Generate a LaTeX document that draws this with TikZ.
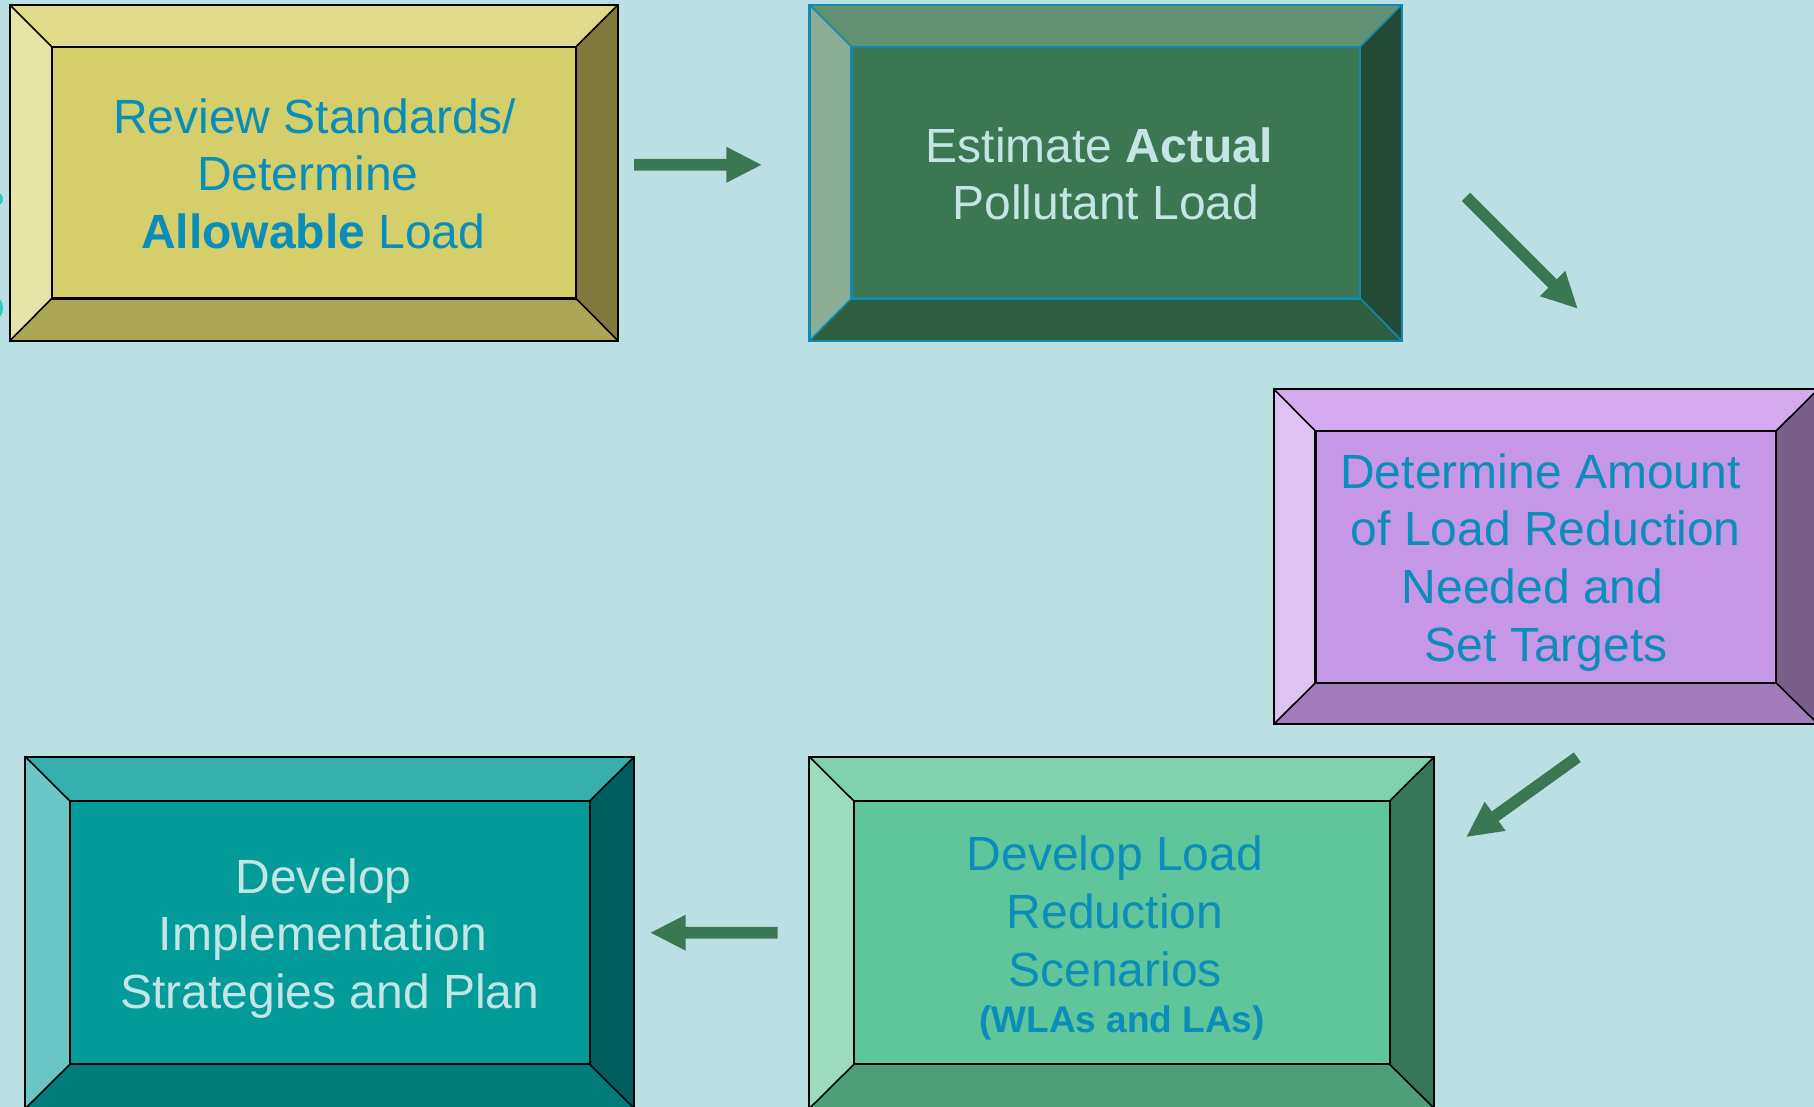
\documentclass[tikz,border=0pt]{standalone}
\usepackage{fontspec}
\setmainfont{Liberation Sans}
\usetikzlibrary{calc,fit}

% page and text colours
\definecolor{bg}{HTML}{BAE0E3}
\definecolor{tblue}{HTML}{0B8DBA}
\definecolor{tlight}{HTML}{C3E5E5}
\definecolor{arrowcol}{HTML}{3A7853}
\definecolor{fragcol}{HTML}{2EC6C6}

% bevel colours, one set per box
\definecolor{bAtop}{HTML}{DFDB8B}\definecolor{bAleft}{HTML}{E6E3A6}
\definecolor{bAface}{HTML}{D4CF6B}\definecolor{bAright}{HTML}{807A3F}
\definecolor{bAbot}{HTML}{ABA556}\definecolor{bAline}{HTML}{000000}

\definecolor{bBtop}{HTML}{629173}\definecolor{bBleft}{HTML}{8AAE95}
\definecolor{bBface}{HTML}{3B7753}\definecolor{bBright}{HTML}{234A34}
\definecolor{bBbot}{HTML}{2E5E41}\definecolor{bBline}{HTML}{118AB2}

\definecolor{bCtop}{HTML}{D4ABEF}\definecolor{bCleft}{HTML}{DEC2F3}
\definecolor{bCface}{HTML}{C696E7}\definecolor{bCright}{HTML}{7A5E8B}
\definecolor{bCbot}{HTML}{A07CBB}\definecolor{bCline}{HTML}{000000}

\definecolor{bDtop}{HTML}{36AFAF}\definecolor{bDleft}{HTML}{6CC5C5}
\definecolor{bDface}{HTML}{039A9A}\definecolor{bDright}{HTML}{025F5F}
\definecolor{bDbot}{HTML}{027B7B}\definecolor{bDline}{HTML}{000000}

\definecolor{bEtop}{HTML}{7FD0AC}\definecolor{bEleft}{HTML}{9DDBBF}
\definecolor{bEface}{HTML}{5FC59A}\definecolor{bEright}{HTML}{36775A}
\definecolor{bEbot}{HTML}{4E9E7A}\definecolor{bEline}{HTML}{000000}

\tikzset{
  linetext/.style={font=\fontsize{48}{57.5}\selectfont, inner sep=0pt, anchor=base},
  smalltext/.style={font=\fontsize{37}{44}\selectfont\bfseries, inner sep=0pt, anchor=base},
  onblue/.style={text=tblue},
  onlight/.style={text=tlight},
  edge/.style={line width=2.2pt, line join=miter},
}

% bevelled box: name, outer x1 y1 x2 y2, inner x1 y1 x2 y2
\newcommand\bevelbox[9]{%
  \coordinate (#1-o1) at (#2,#3);
  \coordinate (#1-o2) at (#4,#3);
  \coordinate (#1-o3) at (#4,#5);
  \coordinate (#1-o4) at (#2,#5);
  \coordinate (#1-i1) at (#6,#7);
  \coordinate (#1-i2) at (#8,#7);
  \coordinate (#1-i3) at (#8,#9);
  \coordinate (#1-i4) at (#6,#9);
  \fill[#1top]   (#1-o1) -- (#1-o2) -- (#1-i2) -- (#1-i1) -- cycle;
  \fill[#1right] (#1-o2) -- (#1-o3) -- (#1-i3) -- (#1-i2) -- cycle;
  \fill[#1bot]   (#1-o3) -- (#1-o4) -- (#1-i4) -- (#1-i3) -- cycle;
  \fill[#1left]  (#1-o4) -- (#1-o1) -- (#1-i1) -- (#1-i4) -- cycle;
  \node[inner sep=0pt, fit=(#1-i1)(#1-i3), fill=#1face] (#1) {};
  \draw[edge, draw=#1line] (#1-o1) rectangle (#1-o3);
  \draw[edge, draw=#1line] (#1-i1) rectangle (#1-i3);
  \draw[edge, draw=#1line, line width=1.6pt]
    (#1-o1) -- (#1-i1) (#1-o2) -- (#1-i2) (#1-o3) -- (#1-i3) (#1-o4) -- (#1-i4);
}

% solid block arrow from tail coordinate #1 to tip coordinate #2
\newcommand\blockarrow[2]{%
  \coordinate (#1-h) at ($(#2)!35pt!(#1)$);
  \fill[arrowcol]
    ($(#1)!5.9pt!90:(#2)$) -- ($(#1-h)!5.9pt!90:(#2)$) -- ($(#1-h)!18pt!90:(#2)$)
    -- (#2)
    -- ($(#1-h)!18pt!-90:(#2)$) -- ($(#1-h)!5.9pt!-90:(#2)$) -- ($(#1)!5.9pt!-90:(#2)$)
    -- cycle;
}

\begin{document}
\begin{tikzpicture}[x=1pt, y=-1pt]
  \useasboundingbox (0,0) rectangle (1814,1107);
  \clip (0,0) rectangle (1814,1107);
  \fill[bg] (0,0) rectangle (1814,1107);

  % glyph edges at the left border
  \fill[fragcol] (-3,199) ellipse [x radius=6, y radius=6.5];
  \fill[fragcol] (-4,308) ellipse [x radius=7, y radius=10.5];

  % the five steps
  \bevelbox{bA}{9.8}{4.7}{618}{340.7}{51.8}{46.7}{576}{298.5}
  \bevelbox{bB}{809.5}{4.7}{1401.8}{340.7}{851.4}{46.7}{1360.3}{298.5}
  \bevelbox{bC}{1274}{389.3}{1818}{724}{1315.5}{431}{1776}{682.7}
  \bevelbox{bD}{25.3}{756.7}{634.3}{1108.5}{69.9}{801}{589.7}{1064.3}
  \bevelbox{bE}{809.3}{756.7}{1434.3}{1108.5}{853.9}{801}{1389.6}{1064.3}

  % step texts
  \node[linetext, onblue] (tA1) at (314.7,133.3) {Review Standards/};
  \node[linetext, onblue] (tA2) at (307.8,190.7) {Determine};
  \node[linetext, onblue] (tA3) at (313.3,248.3) {\textbf{Allowable} Load};

  \node[linetext, onlight] (tB1) at (1099.1,162.3) {Estimate \textbf{Actual}};
  \node[linetext, onlight] (tB2) at (1105.9,220) {Pollutant Load};

  \node[linetext, onblue] (tC1) at (1540.4,488.3) {Determine Amount};
  \node[linetext, onblue] (tC2) at (1545.7,545.7) {of Load Reduction};
  \node[linetext, onblue] (tC3) at (1532.6,603.3) {Needed and};
  \node[linetext, onblue] (tC4) at (1546.2,661) {Set Targets};

  \node[linetext, onlight] (tD1) at (323.5,893.3) {Develop};
  \node[linetext, onlight] (tD2) at (323,950.7) {Implementation};
  \node[linetext, onlight] (tD3) at (329.8,1008.3) {Strategies and Plan};

  \node[linetext, onblue] (tE1) at (1115,870) {Develop Load};
  \node[linetext, onblue] (tE2) at (1115,928.3) {Reduction};
  \node[linetext, onblue] (tE3) at (1115.2,986) {Scenarios};
  \node[smalltext, onblue] (tE4) at (1122,1032.7) {(WLAs and LAs)};

  % arrows between the steps
  \coordinate (aAB) at (634,164.8);     \coordinate (aABtip) at (761.3,164.8);
  \coordinate (aBC) at (1466,196.9);    \coordinate (aBCtip) at (1577.3,308.3);
  \coordinate (aCE) at (1577.3,757.2);  \coordinate (aCEtip) at (1466.7,836.7);
  \coordinate (aED) at (777.7,932.7);   \coordinate (aEDtip) at (650.7,932.7);
  \blockarrow{aAB}{aABtip}
  \blockarrow{aBC}{aBCtip}
  \blockarrow{aCE}{aCEtip}
  \blockarrow{aED}{aEDtip}
\end{tikzpicture}
\end{document}
